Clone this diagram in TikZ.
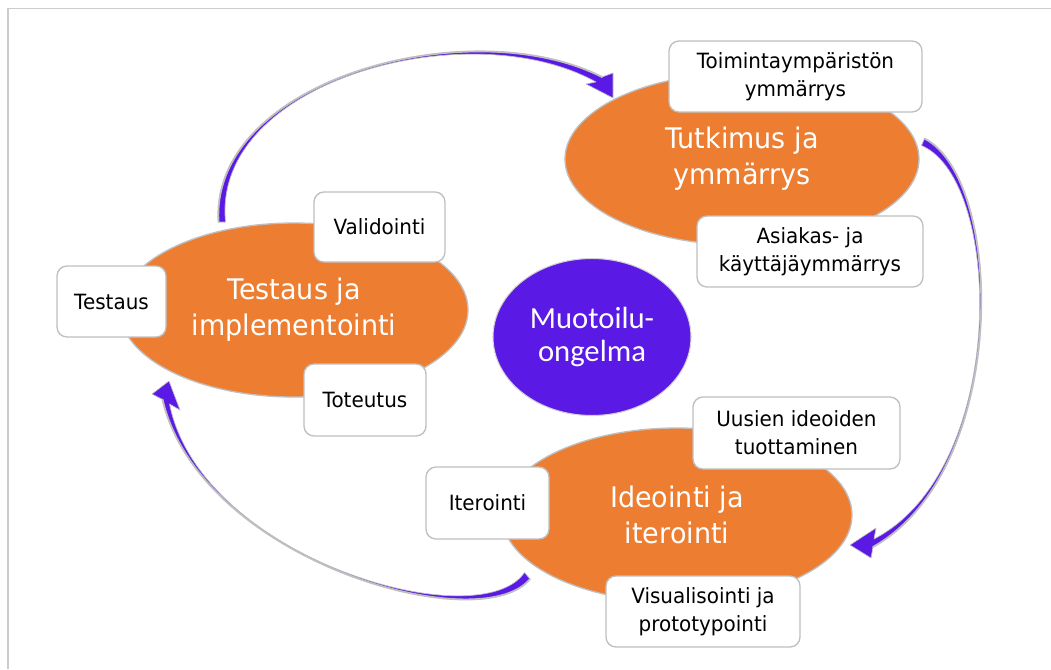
\documentclass[tikz,border=0pt]{standalone}
\usepackage{fontspec}
\usetikzlibrary{shapes.geometric}
\newfontfamily\labelfont[FakeStretch=0.95]{DejaVu Sans}
\newfontfamily\corefont{Carlito}
\definecolor{stageorange}{HTML}{ED7D31}
\definecolor{corepurple}{HTML}{5B19E6}
\definecolor{rim}{HTML}{BFBFBF}
\definecolor{framegray}{HTML}{CCCCCC}

\begin{document}
\begin{tikzpicture}[x=0.75pt,y=-0.75pt,
  stage/.style={ellipse, fill=stageorange, draw=rim, line width=1pt, inner sep=0pt,
    text=white, align=center, font=\labelfont\fontsize{21.3pt}{27pt}\selectfont},
  core/.style={ellipse, fill=corepurple, draw=rim!70, line width=0.8pt, inner sep=0pt,
    text=white, align=center, font=\corefont\fontsize{23pt}{24.75pt}\selectfont},
  tag/.style={rectangle, rounded corners=7.5pt, fill=white, draw=rim, line width=1pt,
    inner sep=0pt, align=center, font=\labelfont\fontsize{15.75pt}{21pt}\selectfont},
  loop/.style={fill=corepurple, draw=rim, line width=0.5pt, line join=round},
  loopedge/.style={draw=rim, line width=1.4pt, line cap=round}]
\useasboundingbox (0,0) rectangle (1051,669);

% frame
\draw[framegray, line width=1.1pt] (8,669) -- (8,8.5) -- (1051,8.5);

% cycle arrows: tapered bands, thick at both ends and thin in the middle,
% with a grey rim along the outer edge
\coordinate (a1o) at (218.5,222); \coordinate (a1i) at (225.5,222);
\coordinate (a1c) at (210,80);    \coordinate (a1ci) at (211.5,80.5);
\coordinate (a1d) at (470,10);    \coordinate (a1di) at (469.5,11.5);
\coordinate (a1e) at (602,77);    \coordinate (a1f) at (596,82);
\coordinate (a1bo) at (613,73);   \coordinate (a1tip) at (613,98);
\coordinate (a1bi) at (586,84);
\path[loop] (a1o) .. controls (a1c) and (a1d) .. (a1e) -- (a1bo) -- (a1tip)
  -- (a1bi) -- (a1f) .. controls (a1di) and (a1ci) .. (a1i) -- cycle;
\path[loopedge] (a1o) .. controls (a1c) and (a1d) .. (a1e);

\coordinate (a2o) at (924.5,138.5); \coordinate (a2i) at (921.5,145.5);
\coordinate (a2c) at (1005,180);    \coordinate (a2ci) at (1003.5,180.5);
\coordinate (a2d) at (1010,470);    \coordinate (a2di) at (1008.5,469.5);
\coordinate (a2e) at (873,547);     \coordinate (a2f) at (874,539);
\coordinate (a2bo) at (871,558);    \coordinate (a2tip) at (850,545);
\coordinate (a2bi) at (876,528);
\path[loop] (a2o) .. controls (a2c) and (a2d) .. (a2e) -- (a2bo) -- (a2tip)
  -- (a2bi) -- (a2f) .. controls (a2di) and (a2ci) .. (a2i) -- cycle;
\path[loopedge] (a2o) .. controls (a2c) and (a2d) .. (a2e);

\coordinate (a3o) at (530,579);   \coordinate (a3i) at (524.5,572.5);
\coordinate (a3c) at (480,640);   \coordinate (a3ci) at (479.5,638.5);
\coordinate (a3d) at (200,560);   \coordinate (a3di) at (201,559);
\coordinate (a3e) at (162.5,399.5); \coordinate (a3f) at (169.5,404);
\coordinate (a3bo) at (152,394);  \coordinate (a3tip) at (169,381);
\coordinate (a3bi) at (180,410);
\path[loop] (a3o) .. controls (a3c) and (a3d) .. (a3e) -- (a3bo) -- (a3tip)
  -- (a3bi) -- (a3f) .. controls (a3di) and (a3ci) .. (a3i) -- cycle;
\path[loopedge] (a3o) .. controls (a3c) and (a3d) .. (a3e);

% phases
\node[stage, minimum width=261pt, minimum height=130.5pt] (test) at (294,310)
  {Testaus ja\\implementointi};
\node[stage, minimum width=265.5pt, minimum height=129pt] (research) at (742,159)
  {Tutkimus ja\\ymmärrys};
\node[stage, minimum width=262.5pt, minimum height=130.5pt] (ideate) at (677,515)
  {Ideointi ja\\iterointi};
\node[core, minimum width=148.5pt, minimum height=117.75pt] (problem) at (592,337)
  {Muotoilu-\\ongelma};

% activity tags
\node[tag, minimum width=81.75pt, minimum height=53.25pt] (testing) at (111.5,301.5) {Testaus};
\node[tag, minimum width=98.25pt, minimum height=52.5pt] (validation) at (379.5,227) {Validointi};
\node[tag, minimum width=91.5pt, minimum height=54pt] (build) at (365,400) {Toteutus};
\node[tag, minimum width=189.75pt, minimum height=53.25pt] (context) at (795.5,76.5)
  {Toimintaympäristön\\ymmärrys};
\node[tag, minimum width=169.5pt, minimum height=53.25pt] (users) at (810,251.5)
  {Asiakas- ja\\käyttäjäymmärrys};
\node[tag, minimum width=155.25pt, minimum height=54pt] (ideas) at (796.5,433)
  {Uusien ideoiden\\tuottaminen};
\node[tag, minimum width=92.25pt, minimum height=54pt] (iteration) at (487.5,503) {Iterointi};
\node[tag, minimum width=145.5pt, minimum height=53.25pt] (prototype) at (703,611.5)
  {Visualisointi ja\\prototypointi};
\end{tikzpicture}
\end{document}
